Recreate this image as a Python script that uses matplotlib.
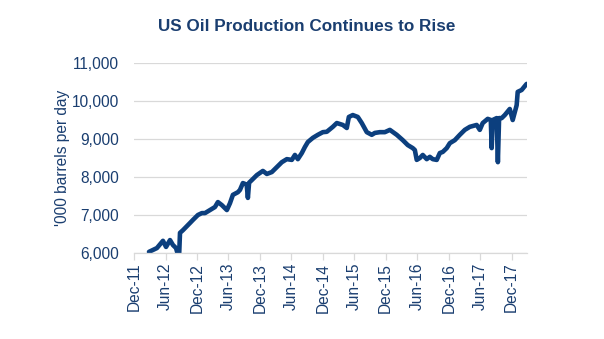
import numpy as np
import pandas as pd
import matplotlib
matplotlib.use("Agg")
import matplotlib.pyplot as plt
import matplotlib.dates as mdates
import matplotlib.ticker as ticker

# weekly US crude production, '000 b/d
dates = [
    "2012-02-26", "2012-04-12", "2012-05-17", "2012-06-04", "2012-06-27", "2012-07-14",
    "2012-08-01", "2012-08-12", "2012-08-19", "2012-08-24", "2012-09-10", "2012-10-21",
    "2012-11-07", "2012-12-06", "2012-12-29", "2013-01-16", "2013-02-14", "2013-03-15",
    "2013-04-01", "2013-04-24", "2013-05-23", "2013-06-10", "2013-06-27", "2013-07-26",
    "2013-08-07", "2013-08-24", "2013-09-15", "2013-09-22", "2013-09-29", "2013-10-15",
    "2013-11-13", "2013-12-18", "2014-01-10", "2014-02-08", "2014-03-09", "2014-04-07",
    "2014-05-06", "2014-06-04", "2014-06-22", "2014-07-09", "2014-08-01", "2014-08-19",
    "2014-09-05", "2014-10-04", "2014-11-02", "2014-12-01", "2014-12-24", "2015-01-28",
    "2015-02-20", "2015-03-27", "2015-04-19", "2015-05-01", "2015-05-24", "2015-06-22",
    "2015-07-15", "2015-08-13", "2015-09-11", "2015-09-29", "2015-10-28", "2015-11-26",
    "2015-12-25", "2016-02-03", "2016-03-09", "2016-04-07", "2016-05-06", "2016-05-18",
    "2016-05-29", "2016-06-16", "2016-07-03", "2016-07-26", "2016-08-13", "2016-08-30",
    "2016-09-22", "2016-10-10", "2016-10-27", "2016-11-19", "2016-12-07", "2017-01-05",
    "2017-02-03", "2017-03-04", "2017-04-02", "2017-05-12", "2017-05-30", "2017-06-16",
    "2017-07-15", "2017-08-02", "2017-08-07", "2017-08-13", "2017-09-05", "2017-09-12",
    "2017-09-19", "2017-10-04", "2017-10-22", "2017-11-20", "2017-12-07", "2017-12-30",
    "2018-01-05", "2018-01-28", "2018-02-15", "2018-02-26",
]
production = [
    6030, 6130, 6320, 6160, 6340, 6210,
    6130, 5950, 5950, 6530, 6600, 6790,
    6870, 7000, 7050, 7050, 7130, 7210,
    7340, 7260, 7130, 7310, 7530, 7600,
    7660, 7840, 7800, 7450, 7850, 7920,
    8050, 8160, 8080, 8130, 8260, 8390,
    8470, 8450, 8580, 8470, 8630, 8790,
    8920, 9030, 9110, 9180, 9190, 9320,
    9420, 9370, 9290, 9580, 9630, 9580,
    9420, 9180, 9110, 9160, 9180, 9180,
    9240, 9110, 8970, 8840, 8760, 8710,
    8450, 8500, 8580, 8470, 8530, 8470,
    8450, 8630, 8660, 8760, 8890, 8970,
    9110, 9240, 9320, 9370, 9240, 9420,
    9530, 9500, 8760, 9500, 9550, 8390,
    9550, 9550, 9630, 9790, 9500, 9890,
    10240, 10290, 10390, 10450,
]
tick_dates = ["2011-12-01", "2012-06-01", "2012-12-01", "2013-06-01", "2013-12-01",
              "2014-06-01", "2014-12-01", "2015-06-01", "2015-12-01", "2016-06-01",
              "2016-12-01", "2017-06-01", "2017-12-01"]

navy = "#0C3F7E"
text_col = "#1A3E70"

plt.rcParams["font.family"] = ["Liberation Sans", "DejaVu Sans"]

fig = plt.figure(figsize=(6.04, 3.39), dpi=100)
ax = fig.add_axes([134/604, 1-253/339, (527-134)/604, (253-63)/339])

ax.plot(pd.to_datetime(dates), production, color=navy, linewidth=3.3,
        solid_joinstyle="round", solid_capstyle="round")

ax.set_ylim(6000, 11000)
ax.set_xlim(pd.Timestamp("2011-12-01"), pd.Timestamp("2018-02-28"))
ax.yaxis.set_major_locator(ticker.MultipleLocator(1000))
ax.yaxis.set_major_formatter(ticker.StrMethodFormatter("{x:,.0f}"))
ax.set_xticks(pd.to_datetime(tick_dates))
ax.xaxis.set_major_formatter(mdates.DateFormatter("%b-%y"))

ax.grid(axis="y", color="#D9D9D9", linewidth=0.9)
ax.set_axisbelow(True)
for s in ["top", "right", "left"]:
    ax.spines[s].set_visible(False)
ax.spines["bottom"].set_color("#D9D9D9")
ax.spines["bottom"].set_linewidth(0.9)
ax.tick_params(axis="y", length=0, pad=11, labelsize=11.2, labelcolor=text_col)
ax.tick_params(axis="x", length=5, color="#D9D9D9", width=0.9, pad=2,
               labelsize=11.2, labelcolor=text_col, labelrotation=90)

ax.set_ylabel("'000 barrels per day", fontsize=11.2, color=text_col, labelpad=1)
fig.suptitle("US Oil Production Continues to Rise", x=0.507, y=0.945,
             fontsize=12.3, fontweight="bold", color=text_col)

fig.savefig("out.png", dpi=100)
